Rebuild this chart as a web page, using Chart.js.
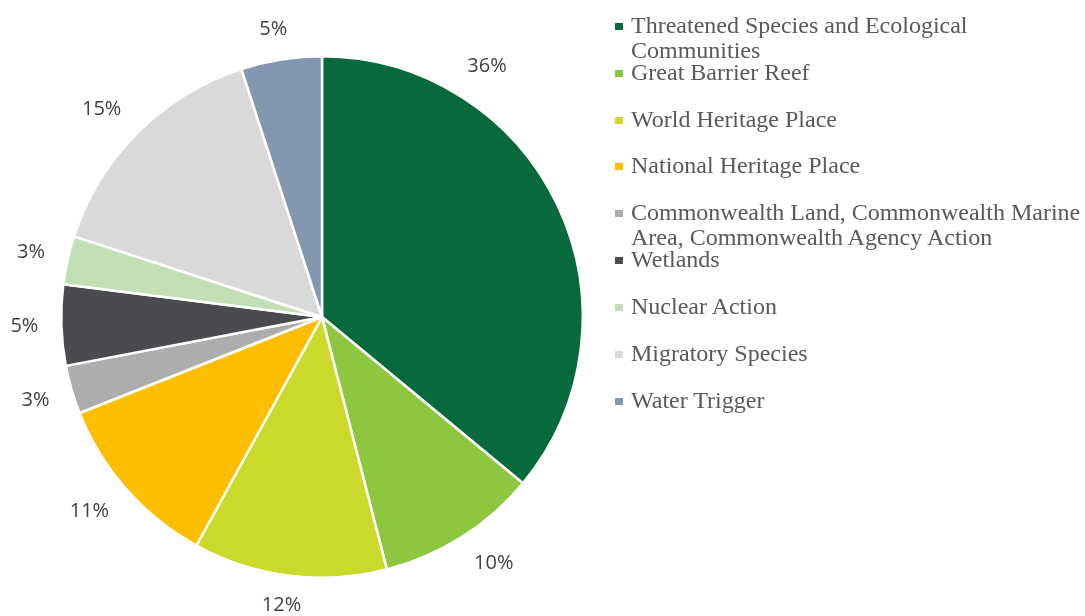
<!DOCTYPE html>
<html>
<head>
<meta charset="utf-8">
<script src="https://cdn.jsdelivr.net/npm/chart.js@4/dist/chart.umd.min.js"></script>
<style>
  body { margin: 0; background: #fff; }
  #wrap { position: relative; width: 1085px; height: 616px; }
  #pieBox { position: absolute; left: 0; top: 0; width: 644px; height: 616px; }
  .legend { position: absolute; left: 615px; top: 0; margin: 0; padding: 0; }
  .legend li {
    position: absolute; left: 0; width: 456px; list-style: none;
    font: 24px "Liberation Serif", "Times New Roman", serif;
    line-height: 25px; color: #595959; padding-left: 16px;
  }
  .legend li span {
    position: absolute; left: 0; top: 10px; width: 8px; height: 7px;
  }
</style>
</head>
<body>
<div id="wrap">
  <div id="pieBox"><canvas id="pie"></canvas></div>
  <ul class="legend" id="legend"></ul>
</div>
<script>
const categories = [
  "Threatened Species and Ecological Communities",
  "Great Barrier Reef",
  "World Heritage Place",
  "National Heritage Place",
  "Commonwealth Land, Commonwealth Marine Area, Commonwealth Agency Action",
  "Wetlands",
  "Nuclear Action",
  "Migratory Species",
  "Water Trigger"
];
const shares = [36, 10, 12, 11, 3, 5, 3, 15, 5];
const colors = ["#08693a", "#8dc63f", "#cbd92a", "#fdbe00", "#adadad",
                "#4a4b4f", "#c3dfb5", "#d9d9d9", "#8497b0"];

// the big slice's label sits up near the top instead of on its mid angle
const labelNudge = [-34, 0, 0, 0, 0, 0, 0, 0, 0];

const clamp = v => Math.max(-1, Math.min(1, v));

// percentage labels just outside each slice
const outsideLabels = {
  id: "outsideLabels",
  afterDatasetsDraw(chart) {
    const ctx = chart.ctx;
    const arcs = chart.getDatasetMeta(0).data;
    ctx.save();
    ctx.font = '20px "Open Sans", sans-serif';
    ctx.fillStyle = "#404040";
    ctx.textAlign = "center";
    ctx.textBaseline = "middle";
    arcs.forEach((arc, i) => {
      const mid = (arc.startAngle + arc.endAngle) / 2 + labelNudge[i] * Math.PI / 180;
      const dx = Math.cos(mid), dy = Math.sin(mid);
      const text = shares[i] + "%";
      const w = ctx.measureText(text).width, h = 14;
      const r = arc.outerRadius + 23;
      const x = arc.x + r * dx + clamp(2 * dx) * w / 2;
      const y = arc.y + r * dy + clamp(2 * dy) * h / 2;
      ctx.fillText(text, x, y);
    });
    ctx.restore();
  }
};

new Chart(document.getElementById("pie"), {
  type: "pie",
  data: {
    labels: categories,
    datasets: [{
      data: shares,
      backgroundColor: colors,
      borderColor: "#fff",
      borderWidth: 2.5
    }]
  },
  options: {
    responsive: true,
    maintainAspectRatio: false,
    animation: false,
    layout: { padding: { top: 55, bottom: 37, left: 60, right: 60 } },
    plugins: {
      legend: { display: false },
      tooltip: { enabled: false }
    }
  },
  plugins: [outsideLabels]
});

// legend list on the right
const legend = document.getElementById("legend");
categories.forEach((name, i) => {
  const li = document.createElement("li");
  li.style.top = (12.7 + i * 46.9) + "px";
  li.innerHTML = `<span style="background:${colors[i]}"></span>${name}`;
  legend.appendChild(li);
});
</script>
</body>
</html>
